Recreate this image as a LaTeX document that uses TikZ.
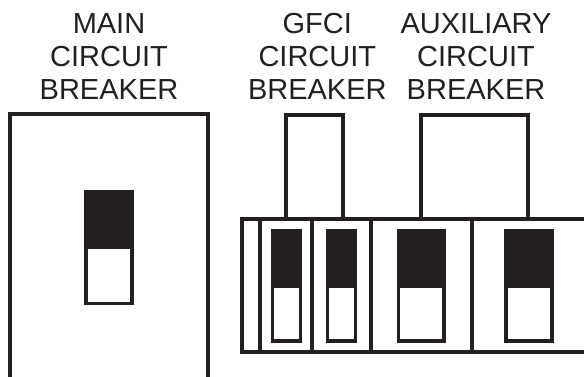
\documentclass[tikz,border=0pt]{standalone}
\usepackage{fontspec}
\setmainfont{Liberation Sans}
\definecolor{ink}{HTML}{231F20}
\tikzset{
	wall/.style={draw=ink,line width=2.1pt},
	caption/.style={text=ink,align=center,inner sep=0pt,font=\fontsize{16.5}{18.8}\selectfont},
}
\begin{document}
\begin{tikzpicture}[x=0.02cm,y=-0.02cm]
	\useasboundingbox (0,0) rectangle (584,377);
	\node[caption] (main) at (109,57) {MAIN\\CIRCUIT\\BREAKER};
	\node[caption] (gfci) at (317.3,56) {GFCI\\CIRCUIT\\BREAKER};
	\node[caption] (aux) at (476,57) {AUXILIARY\\CIRCUIT\\BREAKER};
	
	\draw[wall] (9.7,377) -- (9.7,113.7) -- (208,113.7) -- (208,377);%main
	\draw[wall] (285.7,219.3) -- (285.7,115.3) -- (342.7,115.3) -- (342.7,219.3);
	\draw[wall] (421,219.3) -- (421,115.3) -- (527.7,115.3) -- (527.7,219.3);
	
	\draw[wall] (584,219.3) -- (241.7,219.3) -- (241.7,352.3) -- (584,352.3);
	\foreach \k in {260.3,312.3,371,471.7}{
		\draw[wall] (\k,219.3) to (\k,352.3);}
	
	% x black left, x black right, x white left, x white right, y black top, y split, y white bottom, y black bottom
	\foreach \a/\b/\c/\d/\e/\f/\g/\h in {
		84/134/88/130/190/249.3/301.7/305,
		270.7/302/274.3/298.7/228.7/288/339.3/342.7,
		326/357.3/329.3/354/228.7/288/339.3/342.7,
		396.7/446/400.3/442.3/228.7/288/339.3/342.7,
		503.7/553.7/507.7/549.7/228.7/288/339.3/342.7}{
		\fill[ink] (\a,\e) rectangle (\b,\h);
		\fill[white] (\c,\f) rectangle (\d,\g);}
\end{tikzpicture}
\end{document}
